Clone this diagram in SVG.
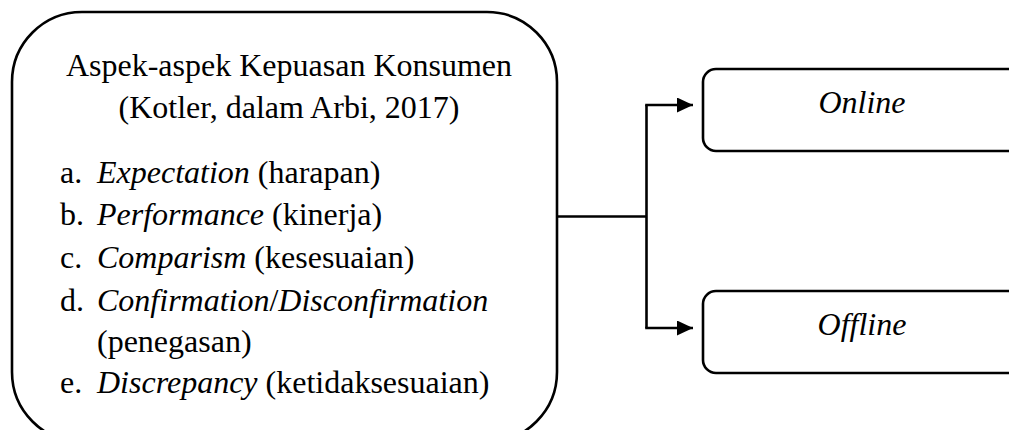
<svg xmlns="http://www.w3.org/2000/svg" width="1009" height="430" viewBox="0 0 1009 430">
<style>
.box{fill:#fff;stroke:#000;stroke-width:2.6}
.t{font-family:"Liberation Serif","Times New Roman",serif;font-size:32px;fill:#000}
.i{font-style:italic}
.ln{fill:none;stroke:#000;stroke-width:2.6}
</style>
<defs>
<marker id="arr" markerWidth="16" markerHeight="15" refX="16" refY="7.5" orient="auto" markerUnits="userSpaceOnUse">
<path d="M0,0 L16,7.5 L0,15 Z" fill="#000"/>
</marker>
</defs>
<g id="main">
<rect class="box" x="12" y="12" width="545" height="430" rx="70" ry="70"/>
<text class="t" x="289" y="76" text-anchor="middle">Aspek-aspek Kepuasan Konsumen</text>
<text class="t" x="289" y="118" text-anchor="middle">(Kotler, dalam Arbi, 2017)</text>
<text class="t" x="60" y="183">a.<tspan x="97" class="i">Expectation</tspan> (harapan)</text>
<text class="t" x="60" y="225">b.<tspan x="97" class="i">Performance</tspan> (kinerja)</text>
<text class="t" x="60" y="268">c.<tspan x="97" class="i">Comparism</tspan> (kesesuaian)</text>
<text class="t" x="60" y="311">d.<tspan x="97" class="i">Confirmation</tspan>/<tspan class="i">Disconfirmation</tspan></text>
<text class="t" x="97" y="352">(penegasan)</text>
<text class="t" x="60" y="393">e.<tspan x="97" class="i">Discrepancy</tspan> (ketidaksesuaian)</text>
</g>
<g id="online">
<rect class="box" x="703" y="69" width="330" height="82" rx="13" ry="13"/>
<text class="t i" x="862" y="113" text-anchor="middle">Online</text>
</g>
<g id="offline">
<rect class="box" x="703" y="291" width="330" height="82" rx="13" ry="13"/>
<text class="t i" x="862" y="335" text-anchor="middle">Offline</text>
</g>
<g id="connectors">
<path class="ln" d="M557,216.5 H646.5"/>
<path class="ln" d="M646.5,105 V328"/>
<path class="ln" d="M645.2,105 H693" marker-end="url(#arr)"/>
<path class="ln" d="M645.2,328 H693" marker-end="url(#arr)"/>
</g>
</svg>
